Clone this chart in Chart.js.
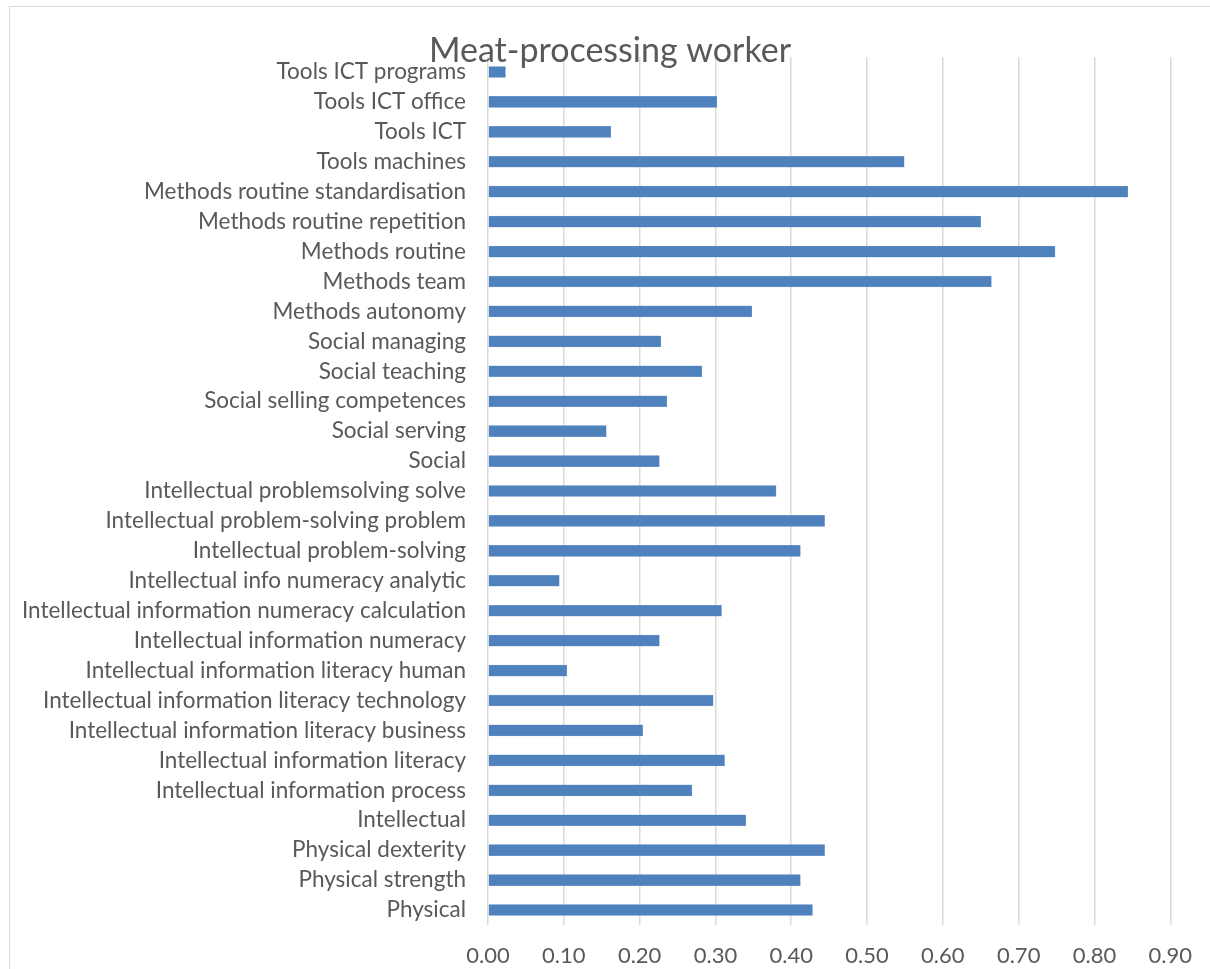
<!DOCTYPE html>
<html>
<head>
<meta charset="utf-8">
<script src="https://cdn.jsdelivr.net/npm/chart.js@4.4.1/dist/chart.umd.min.js"></script>
<style>
  html, body { margin: 0; padding: 0; background: #fff; overflow: hidden; }
  #wrap { position: relative; width: 1210px; height: 969px; }
  #frame { position: absolute; left: 9px; top: 6px; width: 1400px; height: 1200px; border: 1.5px solid #d9d9d9; box-sizing: border-box; }
  canvas { position: absolute; left: 0; top: 0; }
</style>
</head>
<body>
<div id="wrap">
  <div id="frame"></div>
  <canvas id="c" width="1210" height="969"></canvas>
</div>
<script>
const chartTitle = "Meat-processing worker";
const categories = [
  "Tools ICT programs",
  "Tools ICT office",
  "Tools ICT",
  "Tools machines",
  "Methods routine standardisation",
  "Methods routine repetition",
  "Methods routine",
  "Methods team",
  "Methods autonomy",
  "Social managing",
  "Social teaching",
  "Social selling competences",
  "Social serving",
  "Social",
  "Intellectual problemsolving solve",
  "Intellectual problem-solving problem",
  "Intellectual problem-solving",
  "Intellectual info numeracy analytic",
  "Intellectual information numeracy calculation",
  "Intellectual information numeracy",
  "Intellectual information literacy human",
  "Intellectual information literacy technology",
  "Intellectual information literacy business",
  "Intellectual information literacy",
  "Intellectual information process",
  "Intellectual",
  "Physical dexterity",
  "Physical strength",
  "Physical"
];
const values = [
  0.023, 0.302, 0.162, 0.549, 0.844, 0.650, 0.748, 0.664, 0.348,
  0.228, 0.282, 0.236, 0.156, 0.226,
  0.380, 0.444, 0.412, 0.094, 0.308, 0.226, 0.104, 0.297, 0.204, 0.312, 0.269, 0.340,
  0.444, 0.412, 0.428
];
const xTicks = [0, 0.1, 0.2, 0.3, 0.4, 0.5, 0.6, 0.7, 0.8, 0.9];

const textColor = "#595959";
const fontFamily = "Lato, 'Open Sans', sans-serif";

const titlePlugin = {
  id: 'overlayTitle',
  afterDraw(chart) {
    const ctx = chart.ctx;
    ctx.save();
    ctx.font = "34px " + fontFamily;
    ctx.fillStyle = textColor;
    ctx.textAlign = "center";
    ctx.textBaseline = "alphabetic";
    ctx.fillText(chartTitle, 610, 62);
    ctx.restore();
  }
};

new Chart(document.getElementById('c'), {
  type: 'bar',
  data: {
    labels: categories,
    datasets: [{
      data: values,
      backgroundColor: '#4F81BD',
      borderColor: '#7fa3d3',
      borderWidth: 0.5,
      barThickness: 11
    }]
  },
  options: {
    indexAxis: 'y',
    responsive: false,
    animation: false,
    devicePixelRatio: 1,
    layout: { padding: { top: 57, right: 38, left: 0, bottom: 0 } },
    plugins: { legend: { display: false }, tooltip: { enabled: false }, title: { display: false } },
    scales: {
      x: {
        type: 'linear',
        min: 0, max: 0.9,
        afterBuildTicks(scale) { scale.ticks = xTicks.map(v => ({ value: v })); },
        afterFit(scale) { scale.height = 44; },
        grid: { color: '#d9d9d9', lineWidth: 1.5, drawTicks: false },
        border: { display: false },
        ticks: {
          color: textColor,
          font: { family: fontFamily, size: 22 },
          padding: 18,
          callback: v => Number(v).toFixed(2)
        }
      },
      y: {
        afterFit(scale) { scale.width = 488; },
        grid: { display: false, drawTicks: false },
        border: { display: false },
        ticks: {
          color: textColor,
          font: { family: fontFamily, size: 22.5 },
          padding: 22,
          autoSkip: false
        }
      }
    }
  },
  plugins: [titlePlugin]
});
</script>
</body>
</html>
